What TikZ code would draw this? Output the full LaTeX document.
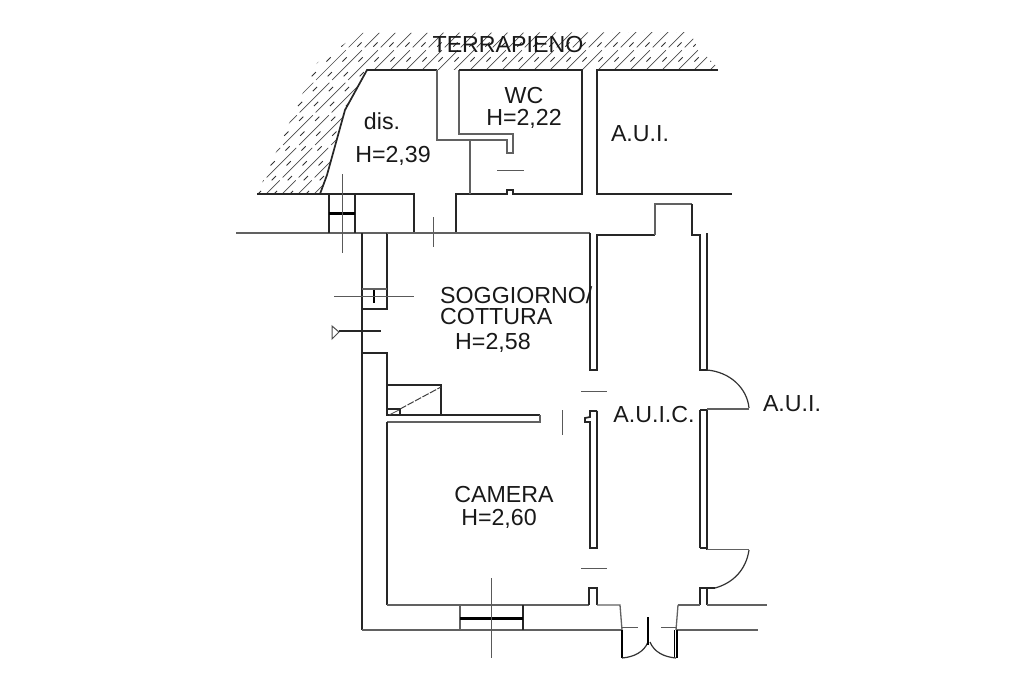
\documentclass[tikz,border=0pt]{standalone}
\usepackage{fontspec}
\setmainfont{Liberation Sans}
\tikzset{
  wall/.style={line width=1.7pt,draw=black!85,line join=miter},
  thin wall/.style={line width=1.3pt,draw=black!62},
  axis/.style={line width=1pt,draw=black!65},
  bar/.style={line width=3pt,draw=black},
  hatch/.style={line width=.7pt,draw=black!70,dash pattern=on 42pt off 4pt},
  hatch dash/.style={line width=.9pt,draw=black!80,dash pattern=on 6pt off 15pt},
  door/.style={line width=1.2pt,draw=black!80},
  lab/.style={font=\fontsize{23.2}{25}\selectfont,text=black!90,inner sep=0pt}
}
\begin{document}
\begin{tikzpicture}[x=1pt,y=-1pt]
\useasboundingbox (0,0) rectangle (1024,682);
\fill[white] (0,0) rectangle (1024,682);
% hatching
\begin{scope}
\clip (257,194) -- (278,148) -- (305,88) -- (317,63) -- (360,33) -- (690,32) -- (697,47) -- (720,70) -- (367,70) -- (345,110) -- (327,175) -- (320,194) -- cycle;
\foreach \i in {0,...,28}{
  \draw[hatch] (170+\i*16,210) -- ++(185,-185);
  \draw[hatch dash] (178+\i*16,210) -- ++(185,-185);
}
\end{scope}
% retaining wall edges
\draw[wall] (320,194) -- (327,175) -- (345,110) -- (367,70) -- (437,70);
% upper rooms
\draw[thin wall] (437,70) -- (437,140) -- (507,140) -- (507,153) -- (513,153) -- (513,134) -- (459,134) -- (459,70);
\draw[wall] (459,70) -- (582,70) -- (582,194) -- (513,194) -- (513,190) -- (507,190) -- (507,194) -- (456,194) -- (456,233);
\draw[thin wall] (470,140) -- (470,194);
\draw[wall] (718,70) -- (597,70) -- (597,194) -- (732,194);
% front wall left
\draw[wall] (257,194) -- (414,194) -- (414,233);
\draw[thin wall] (236,233) -- (414,233);
\draw[wall] (329,194) -- (329,233) (355,194) -- (355,233);
\draw[bar] (329,213) -- (355,213);
\draw[axis] (342,174) -- (342,253);
\draw[axis] (433,217) -- (433,247);
% left walls
\draw[wall] (362,233) -- (362,630);
\draw[wall] (387,233) -- (387,309) -- (362,309);
\draw[thin wall] (362,289) -- (387,289);
\draw[line width=2.5pt] (374,290) -- (374,303);
\draw[axis] (334,296) -- (414,296);
\draw[line width=1pt,draw=black!70] (339,332) -- (332,326) -- (332,339) -- cycle;
\draw[line width=1.2pt,draw=black!85] (339,331) -- (381,331);
\draw[wall] (362,353) -- (387,353) -- (387,416);
% closet and partition
\draw[wall] (387,385) -- (441,385) -- (441,415);
\draw[wall] (387,415) -- (540,415);
\draw[thin wall] (387,422) -- (540,422) -- (540,415);
\draw[wall] (387,409) -- (400,409) -- (400,415);
\draw[line width=1pt,draw=black!75,dash pattern=on 7pt off 1.5pt] (400,409) -- (441,387);
\draw[line width=.8pt,draw=black!70] (389,415) -- (399,410);
\draw[axis] (562,410) -- (562,435);
\draw[axis] (581,391) -- (607,391);
\draw[axis] (581,568) -- (607,568);
\draw[axis] (497,170) -- (524,170);
% lower wall
\draw[wall] (387,422) -- (387,605);
\draw[thin wall] (387,605) -- (589,605);
\draw[wall] (589,605) -- (589,588) -- (597,588) -- (597,605);
\draw[thin wall] (597,605) -- (620,605) -- (622,630);
\draw[thin wall] (362,630) -- (622,630);
\draw[thin wall] (460,605) -- (460,630);
\draw[wall] (523,605) -- (523,630);
\draw[bar] (460,618) -- (523,618);
\draw[axis] (491,578) -- (491,658);
% top of living room
\draw[thin wall] (387,233) -- (590,233);
% central wall
\draw[wall] (590,233) -- (590,370) -- (597,370) -- (597,235) -- (655,235);
\draw[thin wall] (655,235) -- (655,204) -- (692,204);
\draw[wall] (692,204) -- (692,235) -- (700,235) -- (700,370) -- (707,370) -- (707,233);
\draw[wall] (597,411) -- (590,411) -- (590,417) -- (585,418) -- (585,422) -- (590,422) -- (590,548) -- (597,548) -- (597,411);
% east doors
\draw[door] (707,370) .. controls (730,372) and (747,388) .. (749,408);
\draw[thin wall] (707,409) -- (749,409);
\draw[wall] (700,410) -- (707,410) (700,410) -- (700,548) (707,410) -- (707,550);
\draw[wall] (700,548) -- (707,548);
\draw[thin wall] (707,549.5) -- (749,549.5);
\draw[door] (749,550) .. controls (746,570) and (733,583) .. (715,588);
\draw[wall] (715,588) -- (700,588) -- (700,605);
\draw[wall] (707,588) -- (707,605);
\draw[thin wall] (678,605) -- (700,605);
\draw[thin wall] (707,605) -- (767,605);
\draw[thin wall] (676,630) -- (758,630);
\draw[thin wall] (678,605) -- (676,630);
% entrance
\draw[line width=2pt] (622,630) -- (622,658);
\draw[line width=1.5pt] (674.5,630) -- (674.5,658) (677,630) -- (677,658);
\draw[door] (622,658) .. controls (634,657) and (644,652) .. (648,642);
\draw[door] (676,658) .. controls (664,657) and (654,652) .. (650,642);
\draw[line width=1.5pt] (648,617) -- (648,645);
\draw[axis] (622,627) -- (638,627);
\draw[axis] (661,627) -- (676,627);
% labels
\node[lab] (terr) at (508,45) {TERRAPIENO};
\node[lab] (wc) at (524,96) {WC};
\node[lab] (wch) at (524,119) {H=2,22};
\node[lab] (dis) at (382,121) {dis.};
\node[lab] (dish) at (393,156) {H=2,39};
\node[lab] (aui1) at (640,134) {A.U.I.};
\node[lab,anchor=west] (sog) at (440,295) {SOGGIORNO/};
\node[lab,anchor=west] (cot) at (440,317) {COTTURA};
\node[lab,anchor=west] (sogh) at (455,343) {H=2,58};
\node[lab] (auic) at (654,415) {A.U.I.C.};
\node[lab] (aui2) at (792,404) {A.U.I.};
\node[lab] (cam) at (504,495) {CAMERA};
\node[lab] (camh) at (499,519) {H=2,60};
\end{tikzpicture}
\end{document}
